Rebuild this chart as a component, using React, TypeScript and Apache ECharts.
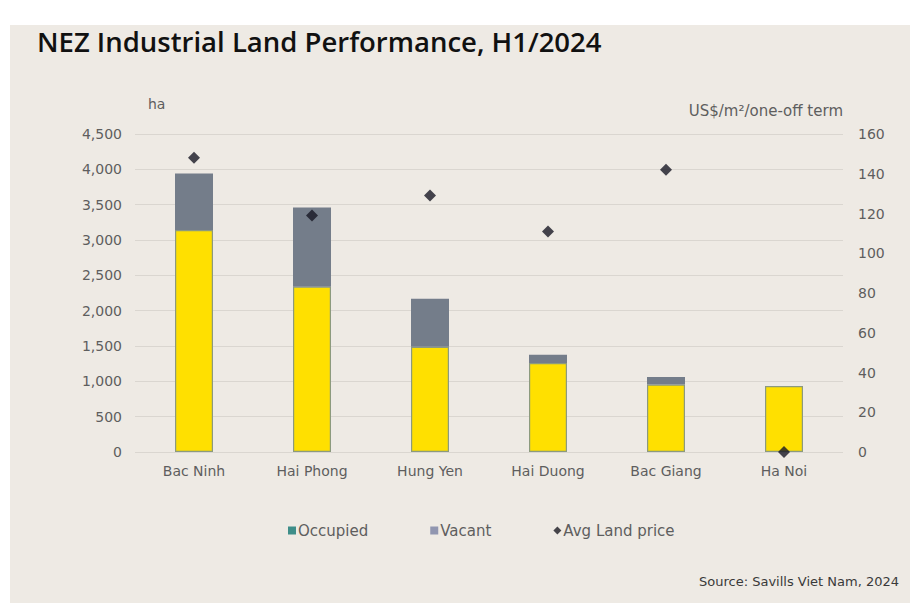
import React, { useEffect, useRef } from "react";
import * as echarts from "echarts";

const categories = ["Bac Ninh", "Hai Phong", "Hung Yen", "Hai Duong", "Bac Giang", "Ha Noi"];
const occupied = [3140, 2340, 1490, 1260, 955, 935];
const vacant = [800, 1120, 680, 115, 105, 0];
const avgLandPrice = [148, 119, 129, 111, 142, 0];
const leftTicks = { min: 0, max: 4500, interval: 500 };
const rightTicks = { min: 0, max: 160, interval: 20 };

const TITLE_FONT = "'Open Sans', 'DejaVu Sans', sans-serif";
const FONT = "'DejaVu Sans', 'Open Sans', sans-serif";
const LABEL = "#5E5E5E";

export default function App() {
  const ref = useRef<HTMLDivElement>(null);
  useEffect(() => {
    if (!ref.current) return;
    const chart = echarts.init(ref.current, undefined, { renderer: "svg" });
    chart.setOption({
      animation: false,
      backgroundColor: "#ffffff",
      textStyle: { fontFamily: FONT },
      graphic: [
        {
          type: "rect",
          z: -10,
          silent: true,
          shape: { x: 10, y: 25, width: 900, height: 578 },
          style: { fill: "#EEEAE4" },
        },
        {
          type: "text",
          left: 37,
          top: 27,
          style: {
            text: "NEZ Industrial Land Performance, H1/2024",
            font: `600 27.5px ${TITLE_FONT}`,
            fill: "#111111",
          },
        },
        {
          type: "text",
          right: 22,
          top: 575,
          style: {
            text: "Source: Savills Viet Nam, 2024",
            font: `13px ${FONT}`,
            fill: "#3A3A3A",
          },
        },
      ],
      grid: { left: 135, right: 78, top: 134, bottom: 159, containLabel: false },
      legend: {
        top: 518,
        left: 283,
        itemGap: 62,
        itemWidth: 8,
        itemHeight: 8,
        textStyle: { fontFamily: FONT, fontSize: 15, color: LABEL, padding: [0, 0, 0, -3] },
        data: [
          { name: "Occupied", icon: "rect", itemStyle: { color: "#3E8E89", borderWidth: 0 } },
          { name: "Vacant", icon: "rect", itemStyle: { color: "#9196B0", borderWidth: 0 } },
          { name: "Avg Land price", icon: "diamond", itemStyle: { color: "#1A1A22" } },
        ],
      },
      xAxis: {
        type: "category",
        data: categories,
        axisLine: { show: false },
        axisTick: { show: false },
        axisLabel: { color: LABEL, fontSize: 14, margin: 12, fontFamily: FONT },
      },
      yAxis: [
        {
          type: "value",
          min: leftTicks.min,
          max: leftTicks.max,
          interval: leftTicks.interval,
          name: "ha",
          nameLocation: "end",
          nameGap: 23,
          nameTextStyle: { align: "left", color: LABEL, fontSize: 14, padding: [0, 0, 0, 13] },
          axisLine: { show: false },
          axisTick: { show: false },
          axisLabel: {
            color: LABEL,
            fontSize: 14,
            margin: 13,
            formatter: (v: number) => v.toLocaleString("en-US"),
          },
          splitLine: { lineStyle: { color: "#DAD6D0", width: 1 } },
        },
        {
          type: "value",
          min: rightTicks.min,
          max: rightTicks.max,
          interval: rightTicks.interval,
          name: "US$/m²/one-off term",
          nameLocation: "end",
          nameGap: 16,
          nameTextStyle: { align: "right", color: LABEL, fontSize: 15, padding: [0, 0, 0, 0] },
          axisLine: { show: false },
          axisTick: { show: false },
          axisLabel: { color: LABEL, fontSize: 14, margin: 15 },
          splitLine: { show: false },
        },
      ],
      series: [
        {
          name: "Occupied",
          type: "bar",
          stack: "land",
          barWidth: 38,
          data: occupied,
          itemStyle: { color: "#FFE000", borderColor: "#8C9A7E", borderWidth: 1.2 },
        },
        {
          name: "Vacant",
          type: "bar",
          stack: "land",
          barWidth: 38,
          data: vacant,
          itemStyle: { color: "#747D8A", borderWidth: 0 },
        },
        {
          name: "Avg Land price",
          type: "scatter",
          yAxisIndex: 1,
          symbol: "diamond",
          symbolSize: 12,
          data: avgLandPrice,
          itemStyle: { color: "#181824" },
          z: 5,
        },
      ],
    });
    return () => chart.dispose();
  }, []);
  return (
    <div style={{ position: "fixed", left: 0, top: 0, width: 921, height: 611, background: "#fff" }}>
      <div ref={ref} style={{ width: 921, height: 611 }} />
    </div>
  );
}
